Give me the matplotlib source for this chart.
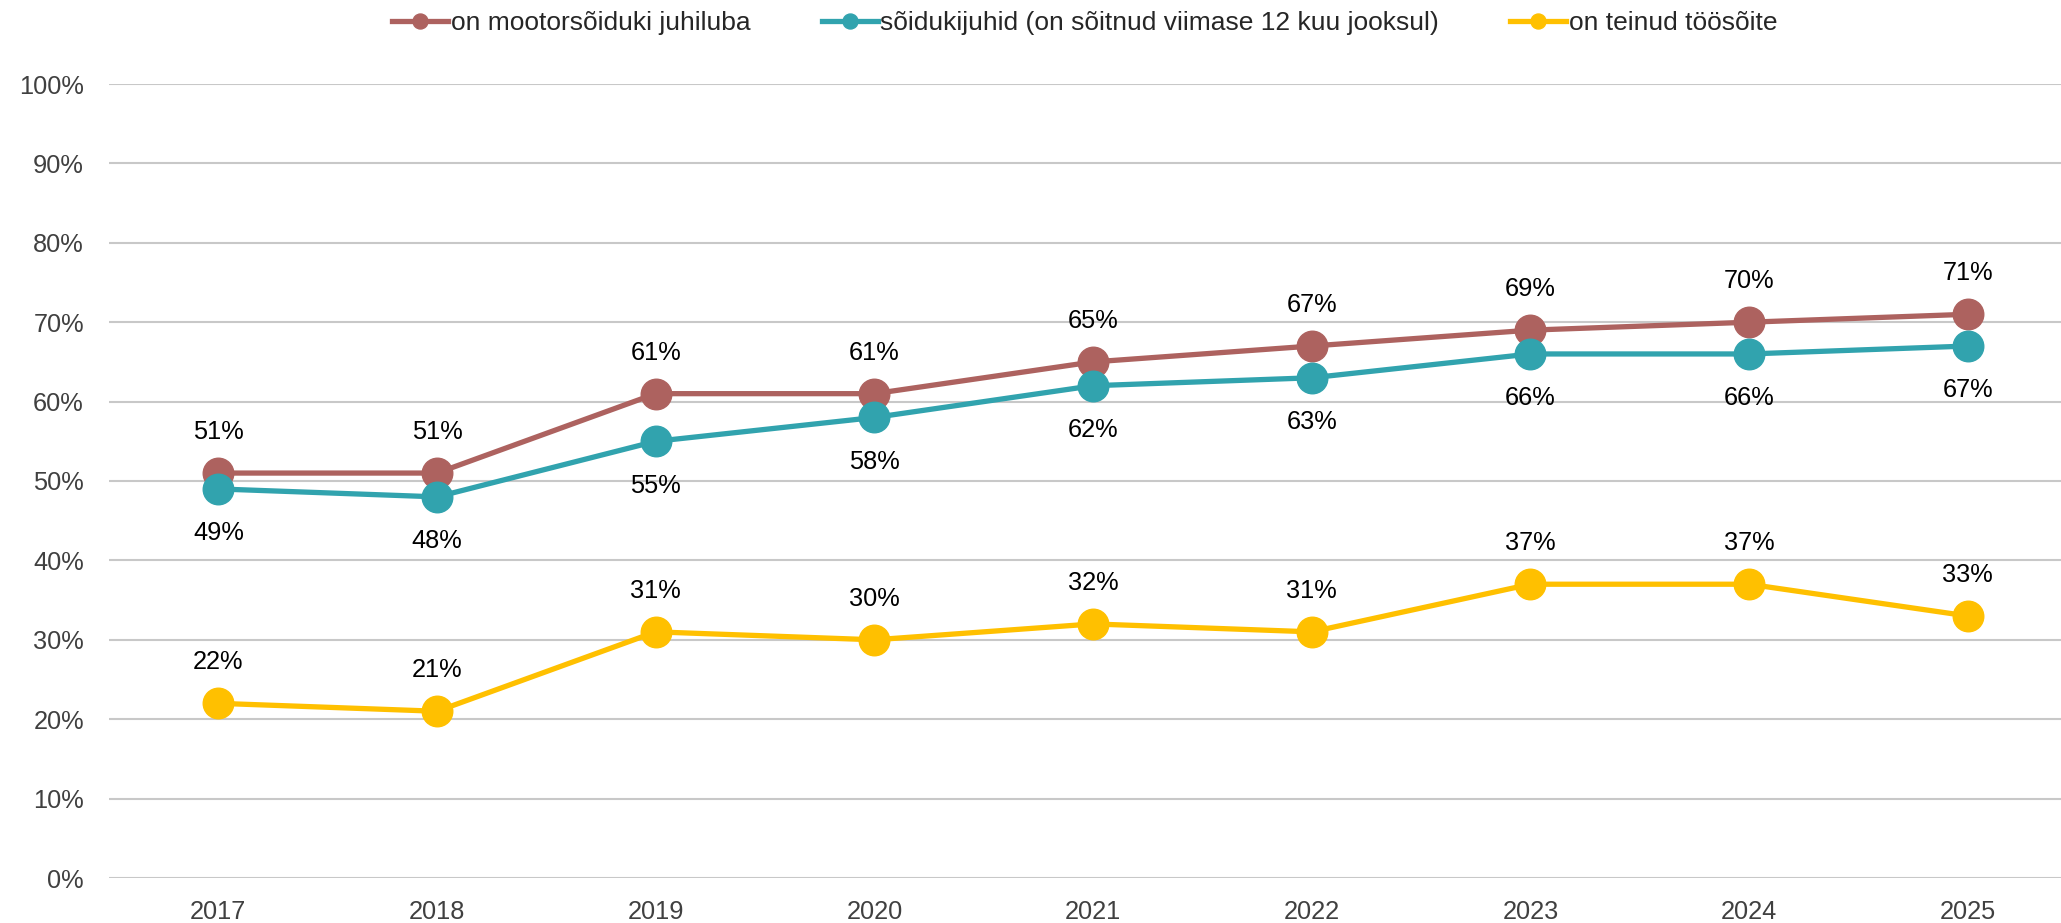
import matplotlib.pyplot as plt
from matplotlib.ticker import FuncFormatter

plt.rcParams['font.family'] = ['Liberation Sans', 'DejaVu Sans']

years = ['2017', '2018', '2019', '2020', '2021', '2022', '2023', '2024', '2025']
juhiluba = [51, 51, 61, 61, 65, 67, 69, 70, 71]
juhid = [49, 48, 55, 58, 62, 63, 66, 66, 67]
toosoit = [22, 21, 31, 30, 32, 31, 37, 37, 33]

# label, values, colour, label side (1 = above, -1 = below)
series = [
    ('on mootorsõiduki juhiluba', juhiluba, '#AD625F', 1),
    ('sõidukijuhid (on sõitnud viimase 12 kuu jooksul)', juhid, '#31A3AE', -1),
    ('on teinud töösõite', toosoit, '#FFC000', 1),
]

fig = plt.figure(figsize=(20.61, 9.23), dpi=100)
ax = fig.add_axes([109 / 2061, 45 / 923, 1 - 109 / 2061, (878 - 84) / 923])

x = list(range(len(years)))
for label, vals, color, side in series:
    ax.plot(x, vals, color=color, lw=3.8, marker='o', markersize=22,
            label=label, zorder=3)
    for xi, v in zip(x, vals):
        off = 29.5 if side > 0 else -32
        ax.annotate(f'{v}%', (xi, v), xytext=(0, off), textcoords='offset points',
                    ha='center', va='center', fontsize=18.3, color='black')

ax.set_ylim(0, 100)
ax.set_xlim(-0.5, 8.426)
ax.set_yticks(range(0, 101, 10))
ax.yaxis.set_major_formatter(FuncFormatter(lambda v, p: f'{int(v)}%'))
ax.set_xticks(x)
ax.set_xticklabels(years)
ax.tick_params(length=0, labelsize=18.3, colors='#404040', pad=16)
ax.tick_params(axis='y', pad=18)
ax.grid(axis='y', color='#C8C8C8', lw=1.5)
ax.set_axisbelow(True)
for s in ax.spines.values():
    s.set_visible(False)

# legend centred over the plot area, not the whole figure
handles, labels = ax.get_legend_handles_labels()
leg = fig.legend(handles, labels, loc='center',
                 bbox_to_anchor=((109 + 2061) / 2 / 2061, 1 - 23 / 923), ncol=3,
                 frameon=False, fontsize=19, markerscale=0.49, handlelength=2.12,
                 handletextpad=0.1, columnspacing=2.7, borderpad=0)
for t in leg.get_texts():
    t.set_color('#262626')

fig.savefig('out.png', dpi=100)
